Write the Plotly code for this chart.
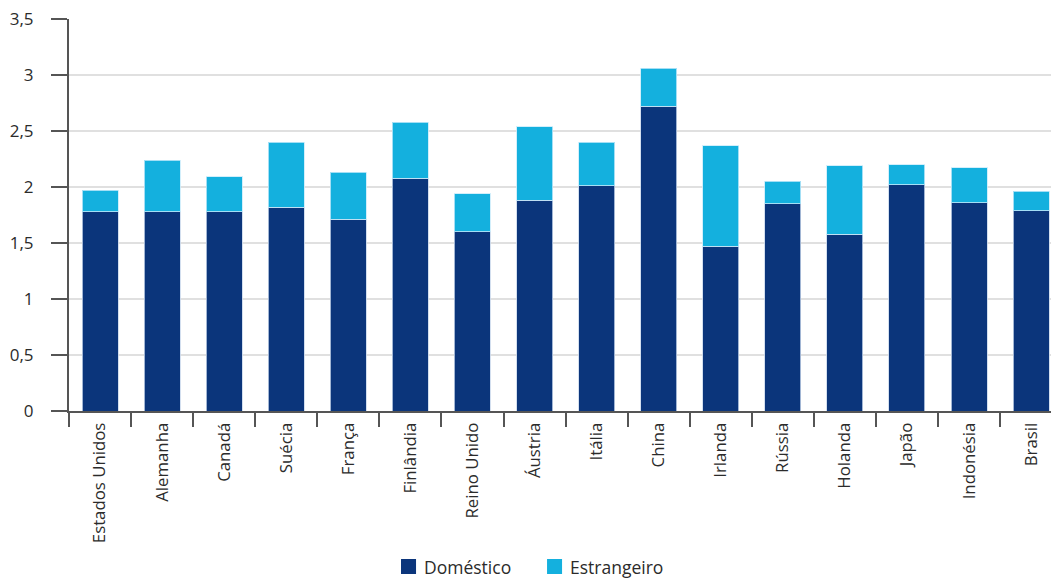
import plotly.graph_objects as go

paises = ["Estados Unidos", "Alemanha", "Canadá", "Suécia", "França", "Finlândia",
          "Reino Unido", "Áustria", "Itália", "China", "Irlanda", "Rússia",
          "Holanda", "Japão", "Indonésia", "Brasil"]
domestico = [1.78, 1.78, 1.78, 1.82, 1.71, 2.08, 1.60, 1.88, 2.01, 2.72, 1.47, 1.85,
             1.58, 2.02, 1.86, 1.79]
estrangeiro = [0.19, 0.46, 0.31, 0.58, 0.42, 0.50, 0.34, 0.66, 0.39, 0.34, 0.90, 0.20,
               0.61, 0.18, 0.31, 0.17]
y_ticks = [0, 0.5, 1, 1.5, 2, 2.5, 3, 3.5]
y_ticktext = ["0", "0,5", "1", "1,5", "2", "2,5", "3", "3,5"]
series_names = ["Doméstico", "Estrangeiro"]

DARK = "#0b357b"
LIGHT = "#14b0de"
FONT = "Open Sans"
TXT = "#2b2b2b"

fig = go.Figure()
fig.add_trace(go.Bar(x=paises, y=domestico, name=series_names[0], showlegend=False,
                     marker=dict(color=DARK, line=dict(color="rgba(200,215,235,0.8)", width=1)),
                     width=0.58))
fig.add_trace(go.Bar(x=paises, y=estrangeiro, name=series_names[1], showlegend=False,
                     marker=dict(color=LIGHT, line=dict(color="rgba(200,235,250,0.8)", width=1)),
                     width=0.58))

# manual legend (paper coordinates)
legend_items = [(0.3381, DARK), (0.4868, LIGHT)]
for (x0, col), name in zip(legend_items, series_names):
    fig.add_shape(type="rect", xref="paper", yref="paper",
                  x0=x0, x1=x0 + 0.0153, y0=-0.4158, y1=-0.3776,
                  fillcolor=col, line=dict(width=0))
    fig.add_annotation(xref="paper", yref="paper", x=x0 + 0.0224, y=-0.3967,
                       xanchor="left", yanchor="middle", text=name, showarrow=False,
                       borderpad=0,
                       font=dict(family=FONT, size=17.5, color=TXT))

fig.update_layout(
    barmode="stack",
    width=1051, height=579,
    margin=dict(l=69, r=0, t=19, b=168),
    paper_bgcolor="white", plot_bgcolor="white",
    font=dict(family=FONT, size=16, color=TXT),
    showlegend=False,
    bargap=0.42,
)
fig.update_xaxes(
    type="category", range=[-0.5, 15.32], automargin=False,
    showline=True, linecolor="#555555", linewidth=2,
    ticks="outside", tickson="boundaries", ticklen=14, tickwidth=2, tickcolor="#555555",
    tickangle=-90, tickfont=dict(size=16.8, family=FONT, color=TXT),
    showgrid=False, ticklabelstandoff=3,
)
fig.update_yaxes(
    range=[0, 3.5], tickvals=y_ticks, ticktext=y_ticktext, automargin=False,
    showline=True, linecolor="#555555", linewidth=2,
    ticks="outside", ticklen=16, tickwidth=2, tickcolor="#555555",
    showgrid=True, gridcolor="#e0e0e0", gridwidth=2,
    zeroline=False, ticklabelstandoff=14, ticklabeloverflow="allow",
    tickfont=dict(size=17, family=FONT, color=TXT),
)

fig.write_html("out.html", config={"displayModeBar": False},
               post_script="document.body.style.margin='0';document.body.style.padding='0';")
